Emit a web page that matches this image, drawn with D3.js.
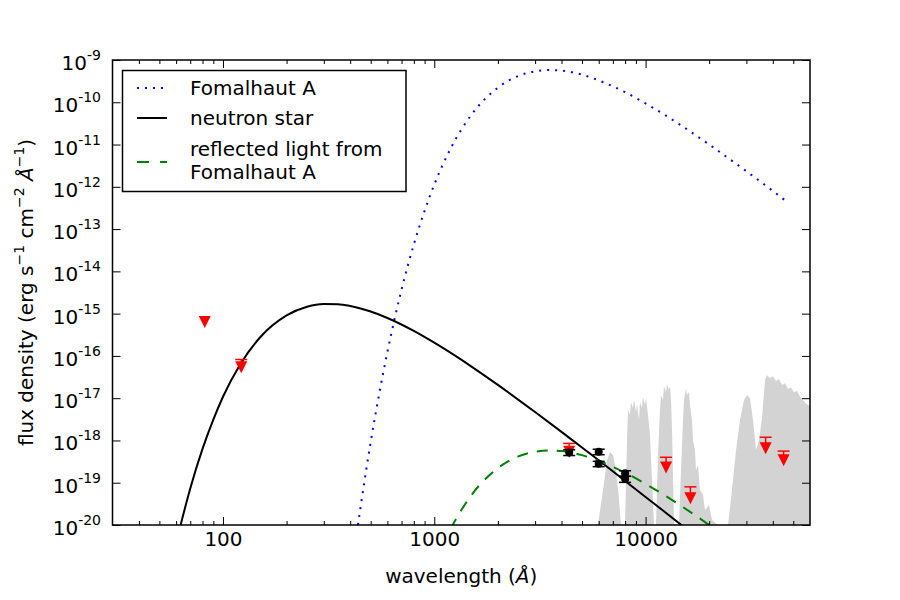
<!DOCTYPE html>
<html>
<head>
<meta charset="utf-8">
<script src="https://cdn.jsdelivr.net/npm/d3@7"></script>
<style>
  body { margin: 0; background: #fff; }
  svg text { font-family: "DejaVu Sans", sans-serif; }
</style>
</head>
<body>
<svg id="chart" width="900" height="600"></svg>
<script>
// --- data (wavelength in Angstrom, flux in erg/s/cm2/A) ---

// neutron star model (solid black)
const nsWave = [60, 63, 70, 80, 90, 100, 120, 150, 200, 250, 300, 350, 400, 500, 600, 800, 1000, 1500, 2000, 3000, 4000, 5000, 6000, 8000, 10000, 12000, 15000];
const nsFlux = [3.7e-21, 9.9e-21, 7.3e-20, 6.3e-19, 3.1e-18, 1.08e-17, 6.0e-17, 2.76e-16, 9.1e-16, 1.46e-15, 1.69e-15, 1.67e-15, 1.52e-15, 1.12e-15, 7.9e-16, 3.9e-16, 2.05e-16, 5.6e-17, 2.06e-17, 4.7e-18, 1.6e-18, 6.8e-19, 3.4e-19, 1.1e-19, 4.6e-20, 2.26e-20, 9.4e-21];

// Fomalhaut A (blue dotted)
const fomWave = [430, 450, 500, 550, 600, 700, 800, 900, 1000, 1200, 1500, 2000, 2500, 3000, 3500, 4000, 5000, 6000, 8000, 10000, 15000, 20000, 30000, 40000, 47000];
const fomFlux = [6.5e-21, 3.1e-20, 9.1e-19, 1.35e-17, 1.24e-16, 3.7e-15, 4.3e-14, 2.7e-13, 1.13e-12, 8.4e-12, 5.1e-11, 2.22e-10, 4.2e-10, 5.4e-10, 5.8e-10, 5.6e-10, 4.5e-10, 3.3e-10, 1.73e-10, 9.4e-11, 2.67e-11, 1.0e-11, 2.33e-12, 8.0e-13, 4.3e-13];

// reflected light from Fomalhaut A (green dashed)
const reflWave = [1000, 1200, 1500, 2000, 2500, 3000, 3500, 4000, 5000, 6000, 8000, 10000, 15000, 20000, 25000];
const reflFlux = [1.13e-21, 8.4e-21, 5.1e-20, 2.22e-19, 4.2e-19, 5.4e-19, 5.8e-19, 5.6e-19, 4.5e-19, 3.3e-19, 1.73e-19, 9.4e-20, 2.67e-20, 1.0e-20, 4.5e-21];

// grey background spectrum
const grayWave = [5950, 6290, 6570, 6790, 7010, 7240, 7490, 7650, 7990, 8170, 8256, 8440, 8530, 8720, 8814, 9010, 9107, 9310, 9408, 9616, 9722, 9936, 10046, 10266, 10490, 10720, 10960,
    11200, 11450, 11700, 11830, 12087, 12220, 12491, 12630, 12906, 13050, 13191, 13340, 13630,
    14390, 14710, 15035, 15200, 15532, 15700, 16046, 16220, 16587, 16760, 17135, 17320, 17705, 18090, 18695, 19110, 19960, 20630, 22010,
    24550, 25640, 26790, 27980, 29230, 30200, 31200, 32240, 33310, 34420, 35560, 36740, 37550, 38800, 40090, 41420, 42800, 44220, 45680, 47210, 48770, 50390, 52060, 53790, 55580, 57420, 60000];
const grayFlux = [1e-20, 6.7e-20, 3.4e-19, 5.3e-19, 4.5e-19, 2.0e-19, 3.9e-20, 1e-20, 1e-20, 1.02e-18, 5.25e-18, 4.0e-18, 8.1e-18, 5.85e-18, 9.55e-18, 4.7e-18, 7.3e-18, 3.0e-18, 8.1e-18, 5.85e-18, 1.06e-17, 6.9e-18, 1.0e-17, 4.0e-18, 1.35e-18, 1.16e-19, 1e-20,
    1e-20, 4.5e-19, 5.25e-18, 1.19e-17, 9.1e-18, 1.94e-17, 1.4e-17, 2.16e-17, 1.56e-17, 1.94e-17, 9.1e-18, 1.77e-18, 1e-20,
    1e-20, 2.0e-19, 3.0e-18, 9.1e-18, 1.74e-17, 1.19e-17, 1.4e-17, 6.9e-18, 3.0e-18, 1.02e-18, 5.9e-19, 2.0e-19, 2.6e-19, 6.7e-20, 5.1e-20, 2.26e-20, 2.97e-20, 1.31e-20, 1e-20,
    1e-20, 6.7e-20, 5.9e-19, 3.0e-18, 9.1e-18, 1.19e-17, 1.0e-17, 3.0e-18, 6.0e-19, 1.0e-18, 3.4e-18, 2.7e-17, 3.5e-17, 3.0e-17, 3.3e-17, 2.55e-17, 2.85e-17, 2.05e-17, 2.26e-17, 1.64e-17, 1.8e-17, 1.36e-17, 1.5e-17, 1.1e-17, 9.1e-18, 7.5e-18, 6.4e-18];

// upper limits (red triangles), top = end of the error bar
const limWave = [82, 122, 4350, 12500, 16300, 37000, 45000];
const limFlux = [6.3e-16, 5.4e-17, 5.4e-19, 2.3e-19, 4.3e-20, 6.5e-19, 3.4e-19];
const limTop = [null, 8.2e-17, 8.5e-19, 4.0e-19, 8.0e-20, 1.19e-18, 5.6e-19];

// detections (black circles)
const detWave = [4350, 6000, 6000, 8000, 8000];
const detFlux = [5.2e-19, 5.4e-19, 2.8e-19, 1.67e-19, 1.22e-19];
const detErr = [0.8e-19, 0.8e-19, 0.4e-19, 0.25e-19, 0.2e-19];

// axes ticks
const xMajor = [100, 1000, 10000];
const xMinor = [40, 50, 60, 70, 80, 90, 200, 300, 400, 500, 600, 700, 800, 900,
    2000, 3000, 4000, 5000, 6000, 7000, 8000, 9000, 20000, 30000, 40000, 50000];
const yExp = [-20, -19, -18, -17, -16, -15, -14, -13, -12, -11, -10, -9];

// legend entries
const legendItems = [
    { label: ["Fomalhaut A"], color: "#0000ff", dash: "2,6", rowY: 88, textY: [95] },
    { label: ["neutron star"], color: "#000000", dash: null, rowY: 118, textY: [125] },
    { label: ["reflected light from", "Fomalhaut A"], color: "#008000", dash: "12,11", rowY: 162, textY: [156, 179] },
];

// --- layout ---
const margin = {top: 60, right: 90, bottom: 75, left: 112.5},
    width = 900 - margin.left - margin.right,
    height = 600 - margin.top - margin.bottom;

const svg = d3.select("#chart");
const g = svg.append("g")
    .attr("transform", "translate(" + margin.left + "," + margin.top + ")");

const x = d3.scaleLog().domain([30, 60000]).range([0, width]);
const y = d3.scaleLog().domain([1e-20, 1e-9]).range([height, 0]);

svg.append("defs").append("clipPath").attr("id", "plotclip")
    .append("rect").attr("width", width).attr("height", height);

const plot = g.append("g").attr("clip-path", "url(#plotclip)");

// grey spectrum
const grayData = grayWave.map((w, i) => [w, grayFlux[i]]);
plot.append("path")
    .datum(grayData)
    .attr("fill", "#d3d3d3")
    .attr("d", d3.area()
        .x(d => x(d[0]))
        .y0(height)
        .y1(d => y(d[1])));

// model curves
const line = d3.line()
    .x(d => x(d[0]))
    .y(d => y(d[1]))
    .curve(d3.curveMonotoneX);

plot.append("path")
    .datum(fomWave.map((w, i) => [w, fomFlux[i]]))
    .attr("fill", "none").attr("stroke", "#0000ff")
    .attr("stroke-width", 2).attr("stroke-dasharray", "2,6")
    .attr("d", line);

plot.append("path")
    .datum(nsWave.map((w, i) => [w, nsFlux[i]]))
    .attr("fill", "none").attr("stroke", "#000")
    .attr("stroke-width", 2)
    .attr("d", line);

plot.append("path")
    .datum(reflWave.map((w, i) => [w, reflFlux[i]]))
    .attr("fill", "none").attr("stroke", "#008000")
    .attr("stroke-width", 2).attr("stroke-dasharray", "11,9")
    .attr("d", line);

// upper limits
const lims = limWave.map((w, i) => ({ w: w, f: limFlux[i], top: limTop[i] }));
const limG = plot.selectAll(".lim").data(lims).enter().append("g").attr("class", "lim");
limG.filter(d => d.top !== null).append("line")
    .attr("x1", d => x(d.w)).attr("x2", d => x(d.w))
    .attr("y1", d => y(d.f)).attr("y2", d => y(d.top))
    .attr("stroke", "#ff0000").attr("stroke-width", 1.5);
limG.filter(d => d.top !== null).append("line")
    .attr("x1", d => x(d.w) - 6).attr("x2", d => x(d.w) + 6)
    .attr("y1", d => y(d.top)).attr("y2", d => y(d.top))
    .attr("stroke", "#ff0000").attr("stroke-width", 1.5);
limG.append("path")
    .attr("fill", "#ff0000")
    .attr("d", d => {
        const cx = x(d.w), cy = y(d.f), h = 6;
        return "M" + (cx - h) + "," + (cy - h) + "L" + (cx + h) + "," + (cy - h) + "L" + cx + "," + (cy + h) + "Z";
    });

// detections
const dets = detWave.map((w, i) => ({ w: w, f: detFlux[i], e: detErr[i] }));
const detG = plot.selectAll(".det").data(dets).enter().append("g").attr("class", "det");
detG.append("line")
    .attr("x1", d => x(d.w)).attr("x2", d => x(d.w))
    .attr("y1", d => y(d.f - d.e)).attr("y2", d => y(d.f + d.e))
    .attr("stroke", "#000").attr("stroke-width", 1.5);
[-1, 1].forEach(s => {
    detG.append("line")
        .attr("x1", d => x(d.w) - 6).attr("x2", d => x(d.w) + 6)
        .attr("y1", d => y(d.f + s * d.e)).attr("y2", d => y(d.f + s * d.e))
        .attr("stroke", "#000").attr("stroke-width", 1.5);
});
detG.append("circle")
    .attr("cx", d => x(d.w)).attr("cy", d => y(d.f))
    .attr("r", 4).attr("fill", "#000");

// --- axes ---
function styleAxis(sel) {
    sel.select(".domain").remove();
    sel.selectAll(".tick line").attr("stroke", "#000").attr("stroke-width", 1);
}

g.append("g")
    .attr("transform", "translate(0," + height + ")")
    .call(d3.axisBottom(x).tickValues(xMajor).tickSizeInner(-8).tickSizeOuter(0)
        .tickPadding(7).tickFormat(d3.format("d")))
    .call(styleAxis)
    .attr("font-size", 20).attr("font-family", "DejaVu Sans, sans-serif")
    .selectAll("text").attr("fill", "#000");

g.append("g")
    .attr("transform", "translate(0," + height + ")")
    .call(d3.axisBottom(x).tickValues(xMinor).tickSizeInner(-4).tickSizeOuter(0).tickFormat(""))
    .call(styleAxis);

g.append("g")
    .call(d3.axisTop(x).tickValues(xMajor).tickSizeInner(-8).tickSizeOuter(0).tickFormat(""))
    .call(styleAxis);
g.append("g")
    .call(d3.axisTop(x).tickValues(xMinor).tickSizeInner(-4).tickSizeOuter(0).tickFormat(""))
    .call(styleAxis);

const yTicks = yExp.map(e => Math.pow(10, e));
const yAxisG = g.append("g")
    .call(d3.axisLeft(y).tickValues(yTicks).tickSizeInner(-8).tickSizeOuter(0).tickFormat(""))
    .call(styleAxis);
yAxisG.selectAll(".tick text").remove();
yAxisG.selectAll(".tick").each(function(d, i) {
    const t = d3.select(this).append("text")
        .attr("x", -11.5).attr("y", 9.5)
        .attr("text-anchor", "end").attr("fill", "#000");
    t.append("tspan").attr("font-size", 20).text("10");
    t.append("tspan").attr("font-size", 14).attr("dy", -10).text("-" + Math.abs(yExp[i]));
});

g.append("g")
    .attr("transform", "translate(" + width + ",0)")
    .call(d3.axisRight(y).tickValues(yTicks).tickSizeInner(-8).tickSizeOuter(0).tickFormat(""))
    .call(styleAxis);

// frame
g.append("rect")
    .attr("width", width).attr("height", height)
    .attr("fill", "none").attr("stroke", "#000").attr("stroke-width", 1.5);

// axis labels
const xl = svg.append("text")
    .attr("x", margin.left + width / 2).attr("y", 583)
    .attr("text-anchor", "middle").attr("font-size", 20);
xl.append("tspan").text("wavelength (");
xl.append("tspan").attr("font-style", "italic").text("Å");
xl.append("tspan").text(")");

const yl = svg.append("text")
    .attr("transform", "translate(33," + (margin.top + height / 2) + ") rotate(-90)")
    .attr("text-anchor", "middle").attr("font-size", 20);
yl.append("tspan").text("flux density (erg s");
yl.append("tspan").attr("font-size", 14).attr("dy", -9).text("−1");
yl.append("tspan").attr("dy", 9).text(" cm");
yl.append("tspan").attr("font-size", 14).attr("dy", -9).text("−2");
yl.append("tspan").attr("dy", 9).text(" ");
yl.append("tspan").attr("font-style", "italic").text("Å");
yl.append("tspan").attr("font-size", 14).attr("dy", -9).text("−1");
yl.append("tspan").attr("dy", 9).text(")");

// legend
const leg = svg.append("g");
leg.append("rect")
    .attr("x", 122.5).attr("y", 70.5).attr("width", 283.5).attr("height", 121)
    .attr("fill", "#fff").attr("stroke", "#000").attr("stroke-width", 1.5);
legendItems.forEach(item => {
    leg.append("line")
        .attr("x1", 137).attr("x2", 167).attr("y1", item.rowY).attr("y2", item.rowY)
        .attr("stroke", item.color).attr("stroke-width", 2)
        .attr("stroke-dasharray", item.dash);
    item.label.forEach((txt, j) => {
        leg.append("text").attr("x", 190).attr("y", item.textY[j])
            .attr("font-size", 20).attr("fill", "#000").text(txt);
    });
});
</script>
</body>
</html>
